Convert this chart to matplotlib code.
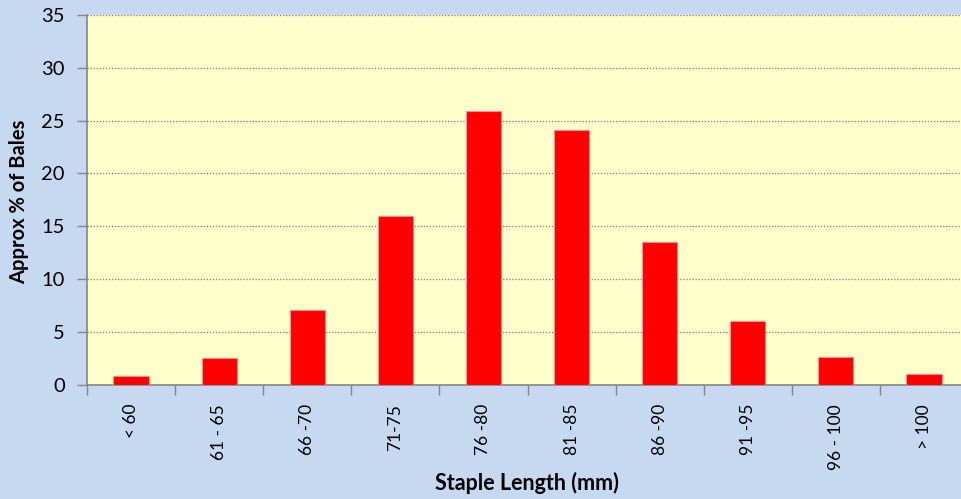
import matplotlib
matplotlib.use('Agg')
import matplotlib.pyplot as plt
import numpy as np

# staple length categories and approx % of bales
categories = ['< 60', '61 - 65', '66 -70', '71-75', '76 -80', '81 -85', '86 -90', '91 -95', '96 - 100', '> 100']
percent_bales = [0.8, 2.5, 7.1, 16.0, 25.9, 24.1, 13.5, 6.0, 2.6, 1.0]
y_ticks = [0, 5, 10, 15, 20, 25, 30, 35]

plt.rcParams['font.family'] = ['Lato', 'DejaVu Sans']

W, H = 962, 499
fig = plt.figure(figsize=(W / 100, H / 100), dpi=100)
fig.patch.set_facecolor('#C6D9F1')

# plot area runs past the right edge of the picture, like the reference
left, right, top, bottom = 87, 968, 15, 384.5
ax = fig.add_axes([left / W, 1 - bottom / H, (right - left) / W, (bottom - top) / H])
ax.set_facecolor('#FFFFCC')

x = np.arange(len(categories))
ax.bar(x, percent_bales, width=0.4, color='#FF0000', edgecolor='#FF8C8C', linewidth=0.8, zorder=3)

ax.set_xlim(-0.5, len(categories) - 0.5)
ax.set_ylim(0, 35)

ax.set_yticks(y_ticks)
ax.set_yticklabels([str(v) for v in y_ticks], fontsize=14.5)
ax.yaxis.grid(True, linestyle=(0, (1, 1.2)), color='#8C8C8C', linewidth=1.0, zorder=1)

# labels in the middle of each category, tick marks on the boundaries
ax.set_xticks(x)
ax.set_xticklabels(categories, rotation=90, fontsize=12.5)
ax.set_xticks(np.arange(len(categories) + 1) - 0.5, minor=True)
ax.tick_params(axis='x', which='major', length=0, pad=14)
ax.tick_params(axis='x', which='minor', length=7, width=1, color='#868686')
ax.tick_params(axis='y', length=7, width=1, color='#868686', pad=9)

for s in ['top', 'right']:
    ax.spines[s].set_visible(False)
for s in ['left', 'bottom']:
    ax.spines[s].set_color('#868686')
    ax.spines[s].set_linewidth(1.2)

fig.text(527 / W, 1 - 483 / H, 'Staple Length (mm)', ha='center', va='center',
         fontsize=15.5, fontweight='bold')
fig.text(19 / W, 1 - 202 / H, 'Approx % of Bales', ha='center', va='center',
         rotation=90, fontsize=14.5, fontweight='bold')

fig.savefig('out.png', dpi=100, facecolor=fig.get_facecolor())
